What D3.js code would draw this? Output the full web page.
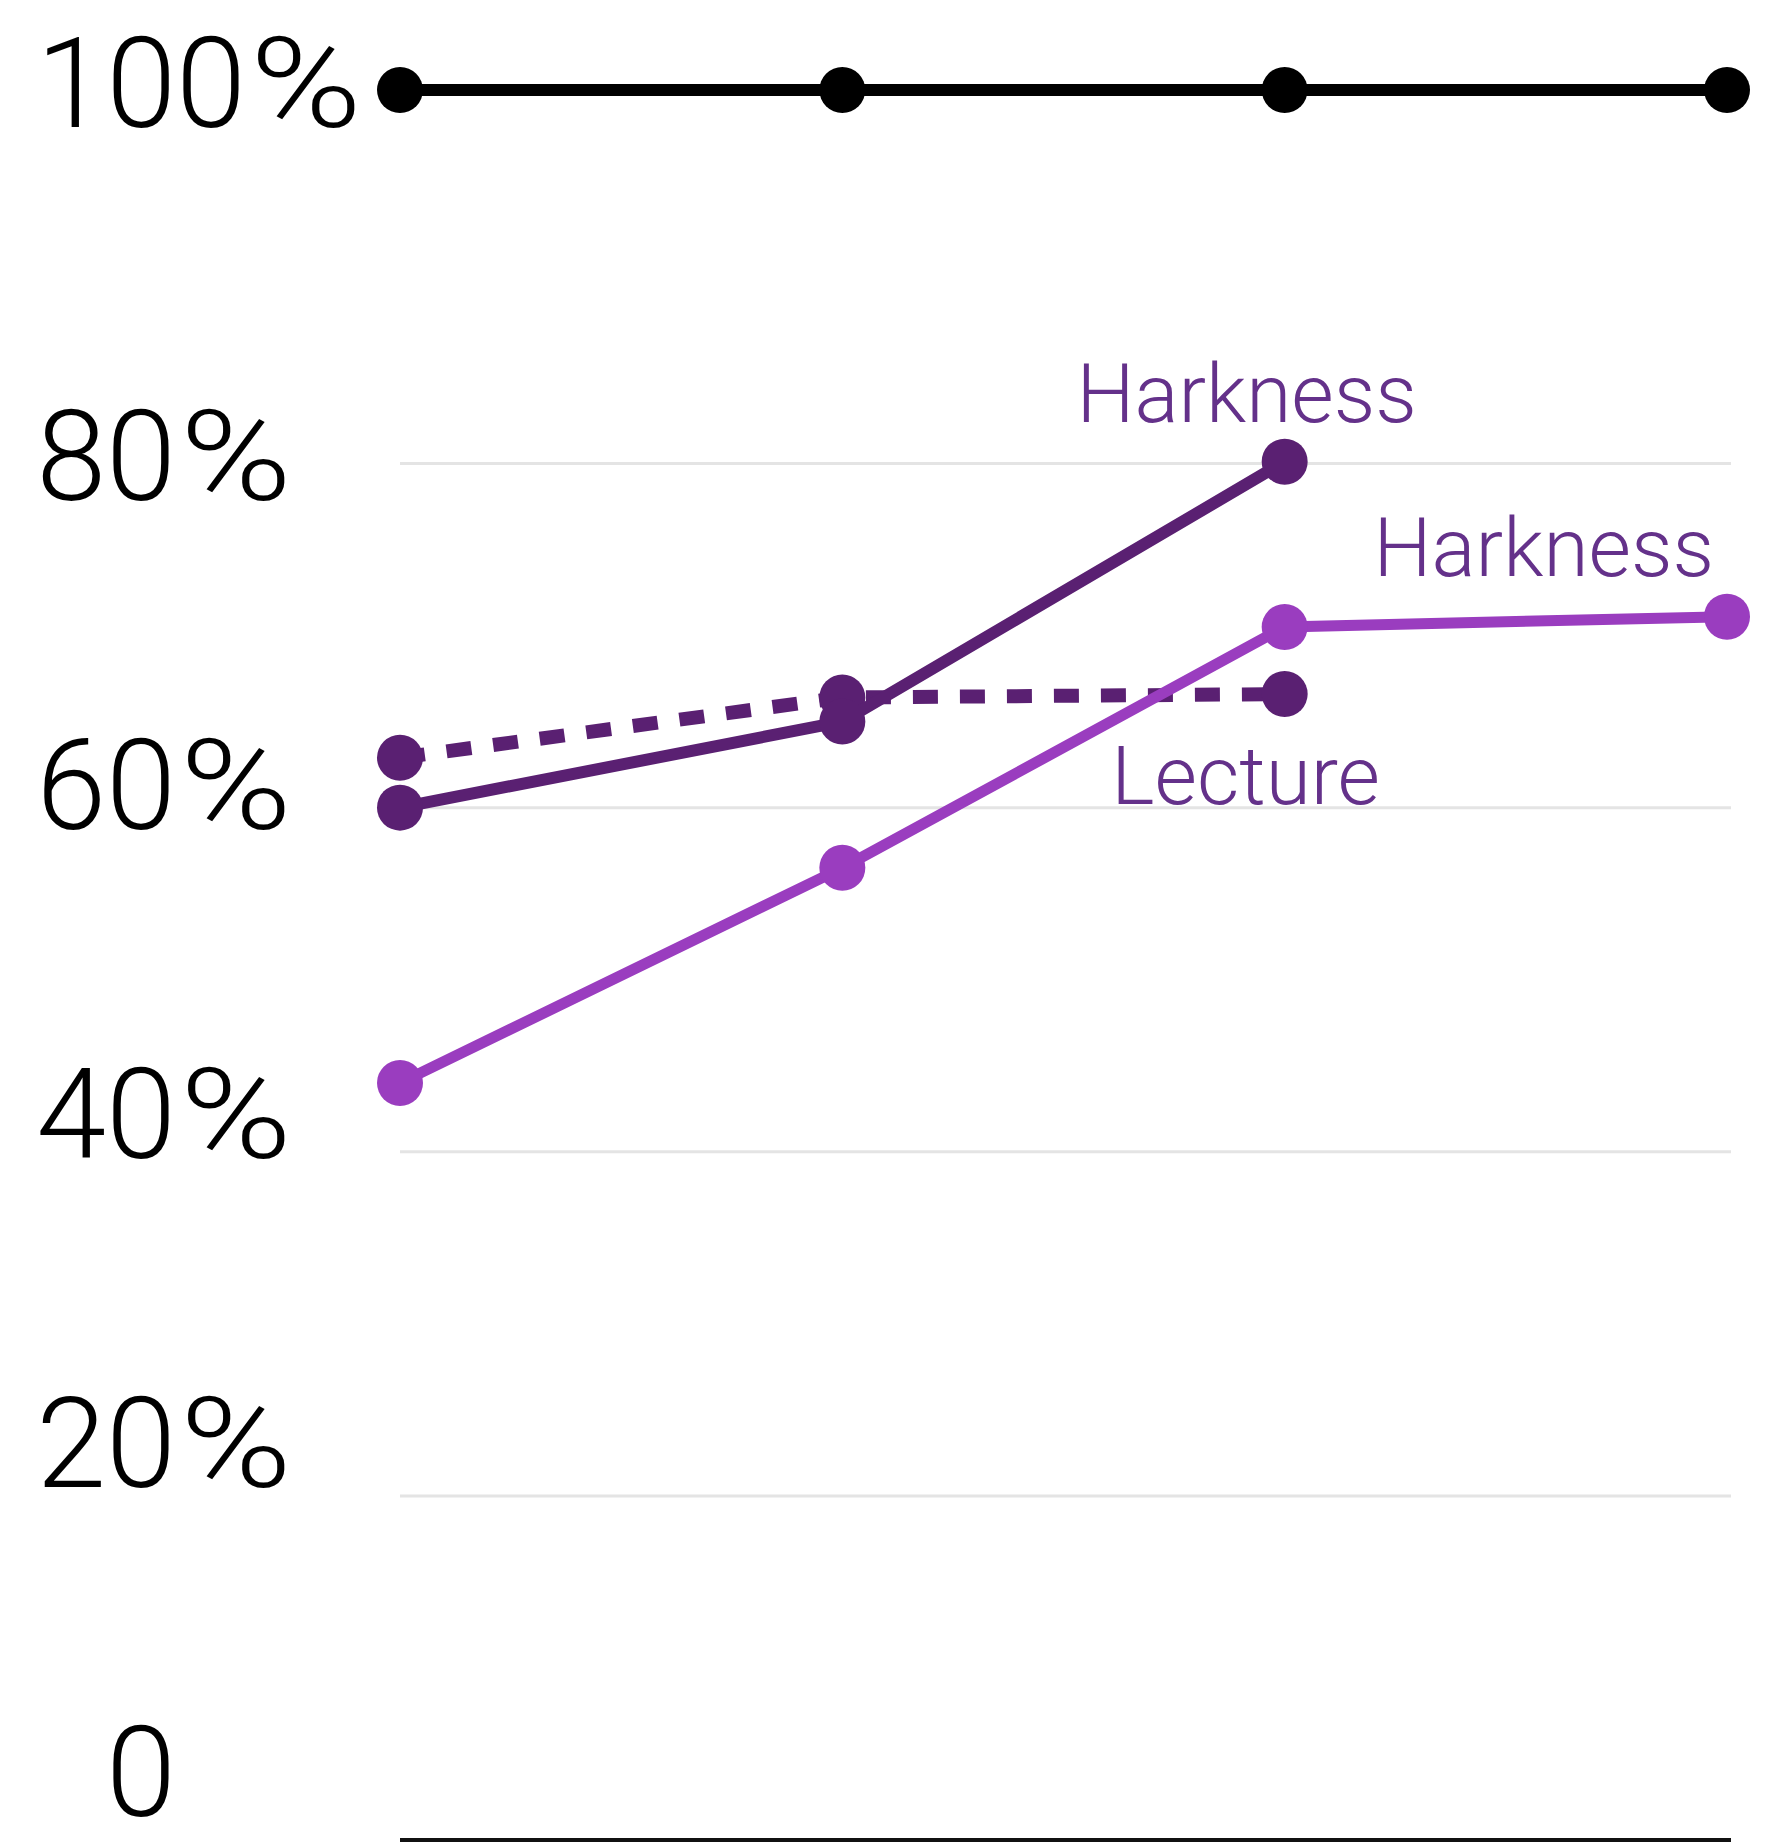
<!DOCTYPE html>
<html>
<head>
<meta charset="utf-8">
<script src="https://cdn.jsdelivr.net/npm/d3@7"></script>
<style>
  body { margin: 0; background: #fff; }
  text { font-family: "Helvetica Neue", Roboto, "Liberation Sans", sans-serif; font-weight: 300; }
</style>
</head>
<body>
<svg width="1775" height="1844"></svg>
<script>
// data
var categories = ["1", "2", "3", "4"];
var yTicks = [0, 20, 40, 60, 80];
var tickLabels = ["0", "20", "40", "60", "80"];
var target = [100, 100, 100, 100];
var harknessTop = [60.0, 65.0, 80.1];
var lecture = [62.9, 66.4, 66.6];
var harknessLow = [44.0, 56.5, 70.5, 71.1];

var svg = d3.select("svg"),
    width = +svg.attr("width"),
    height = +svg.attr("height");

var x = d3.scalePoint()
    .domain(categories)
    .range([400, 1727]);

// the 100% reference line sits a bit higher than a straight scale would put it
var y = d3.scaleLinear()
    .domain([0, 80, 100])
    .range([1840, 463.5, 90]);

var labelY = d3.scaleLinear()
    .domain([0, 80])
    .range([1816, 500]);

var dark = "#5a2072",
    light = "#9a3dbf",
    textPurple = "#64318a";

// the % sign is wider in the original face, so stretch it a bit
function percent(sel, px, py) {
  sel.append("text")
      .attr("transform", "translate(" + px + "," + py + ") scale(1.2,1)")
      .attr("font-size", 126)
      .attr("fill", "#000")
      .text("%");
}

// gridlines
svg.append("g")
    .selectAll("line")
    .data(yTicks)
    .enter().append("line")
      .attr("x1", 400)
      .attr("x2", 1731)
      .attr("y1", function(d) { return y(d); })
      .attr("y2", function(d) { return y(d); })
      .attr("stroke", function(d) { return d === 0 ? "#111" : "#e4e4e4"; })
      .attr("stroke-width", function(d) { return d === 0 ? 4 : 3; });

// tick labels, numbers right aligned and the % hanging after them
var ticks = svg.append("g").selectAll("g")
    .data(yTicks)
    .enter().append("g");

ticks.append("text")
    .attr("x", 176)
    .attr("y", function(d) { return labelY(d); })
    .attr("text-anchor", "end")
    .attr("font-size", 126)
    .attr("fill", "#000")
    .text(function(d, i) { return tickLabels[i]; });

ticks.filter(function(d) { return d !== 0; })
    .each(function(d) { percent(d3.select(this), 180, labelY(d)); });

function points(values) {
  return values.map(function(v, i) { return [categories[i], v]; });
}

var line = d3.line()
    .x(function(d) { return x(d[0]); })
    .y(function(d) { return y(d[1]); });

function series(values, color, opts) {
  var g = svg.append("g");
  g.append("path")
      .datum(points(values))
      .attr("d", line)
      .attr("fill", "none")
      .attr("stroke", color)
      .attr("stroke-width", opts.width)
      .attr("stroke-dasharray", opts.dash || null);
  g.selectAll("circle")
      .data(points(values))
      .enter().append("circle")
        .attr("cx", function(d) { return x(d[0]); })
        .attr("cy", function(d) { return y(d[1]); })
        .attr("r", opts.r)
        .attr("fill", color);
  return g;
}

// 100% line and its label
series(target, "#000", {width: 12, r: 23});
var pctStart = x(categories[0]) - 150;
svg.append("text")
    .attr("x", pctStart - 4)
    .attr("y", y(100) + 37)
    .attr("text-anchor", "end")
    .attr("font-size", 126)
    .text("100");
percent(svg, pctStart, y(100) + 37);

series(lecture, dark, {width: 14, r: 23, dash: "25 22"});
series(harknessTop, dark, {width: 12, r: 23});
series(harknessLow, light, {width: 11, r: 23});

// series labels
var last;
last = harknessTop.length - 1;
svg.append("text")
    .attr("x", x(categories[last]) - 38)
    .attr("y", y(harknessTop[last]) - 40)
    .attr("text-anchor", "middle")
    .attr("font-size", 82)
    .attr("fill", textPurple)
    .text("Harkness");

last = harknessLow.length - 1;
svg.append("text")
    .attr("x", x(categories[last]) - 13)
    .attr("y", y(harknessLow[last]) - 41)
    .attr("text-anchor", "end")
    .attr("font-size", 82)
    .attr("fill", textPurple)
    .text("Harkness");

last = lecture.length - 1;
svg.append("text")
    .attr("x", x(categories[last]) - 39)
    .attr("y", y(lecture[last]) + 110)
    .attr("text-anchor", "middle")
    .attr("font-size", 82)
    .attr("fill", textPurple)
    .text("Lecture");
</script>
</body>
</html>
